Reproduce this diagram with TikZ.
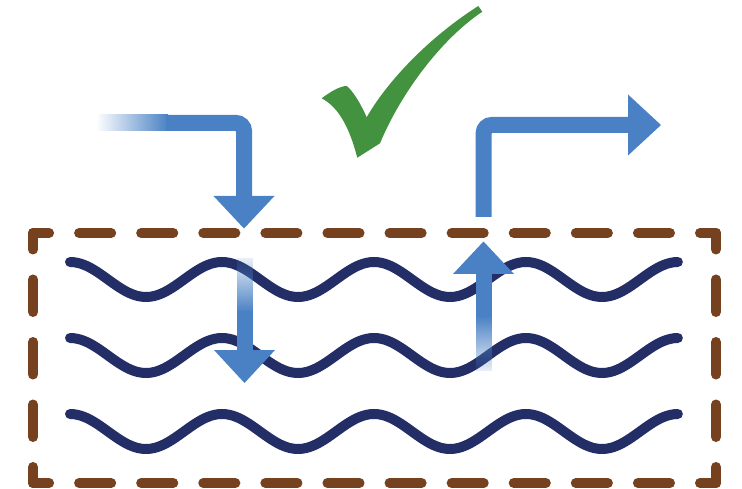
\documentclass[tikz,border=0pt]{standalone}
\usetikzlibrary{fadings}
\definecolor{arrowblue}{RGB}{74,129,196}
\definecolor{wavenavy}{RGB}{35,45,102}
\definecolor{boxbrown}{RGB}{117,65,31}
\definecolor{checkgreen}{RGB}{67,146,63}
\tikzfading[name=fadefromtop, top color=transparent!88, bottom color=transparent!0]
\tikzfading[name=fadefrombottom, top color=transparent!0, bottom color=transparent!88]
\tikzset{
  boxside/.style={draw=boxbrown, line width=10pt, line cap=round},
  wave/.style={draw=wavenavy, line width=10pt, line cap=round},
  shaft/.style={draw=arrowblue, line width=16pt, rounded corners=8pt},
  head/.style={fill=arrowblue},
}
\begin{document}
\begin{tikzpicture}[x=1pt,y=-1pt]
\useasboundingbox (0,0) rectangle (742,489);
\fill[white] (0,0) rectangle (742,489);
% dashed box
\coordinate (tl) at (33,233);
\coordinate (tr) at (716,233);
\coordinate (bl) at (33,483);
\coordinate (br) at (716,483);
\draw[boxside, dash pattern=on 32.09pt off 30pt, dash phase=16pt] (tl) -- (tr);
\draw[boxside, dash pattern=on 32.09pt off 30pt, dash phase=16pt] (bl) -- (br);
\draw[boxside, dash pattern=on 32.5pt off 30pt, dash phase=16pt] (tl) -- (bl);
\draw[boxside, dash pattern=on 32.5pt off 30pt, dash phase=16pt] (tr) -- (br);
% waves
\foreach \yc in {279.5,355.5,431.5}{
  \draw[wave] plot[variable=\t, domain=0:4, samples=181, smooth] ({70+\t*152},{\yc-17.5*cos(\t*360)});
}
% top-left bent arrow (in)
\shade[left color=white, right color=arrowblue] (96,115) rectangle (168,131);
\draw[shaft] (166,123) -- (244,123) -- (244,197);
\fill[head] (213.5,196) -- (274.5,196) -- (244,228.5) -- cycle;
% inner down arrow
\fill[arrowblue, path fading=fadefromtop] (236.5,258) rectangle (252.5,312);
\fill[arrowblue] (236.5,311) rectangle (252.5,351);
\fill[head] (214,350) -- (275,350) -- (244.5,383) -- cycle;
% inner up arrow
\fill[arrowblue, path fading=fadefrombottom] (475.5,316) rectangle (491.5,371);
\fill[arrowblue] (475.5,273) rectangle (491.5,317);
\fill[head] (453,274) -- (514,274) -- (483.5,241.5) -- cycle;
% top-right bent arrow (out)
\draw[shaft] (483.7,217) -- (483.7,125) -- (629,125);
\fill[head] (628,94.5) -- (628,155.5) -- (661,125) -- cycle;
% check mark
\fill[checkgreen] (321.7,98.3) .. controls (330,92) and (340,86) .. (346.7,86)
  .. controls (352,90) and (360,102) .. (366.7,117.3)
  .. controls (385,85) and (425,40) .. (478.3,6)
  -- (482.3,11.7)
  .. controls (440,40) and (400,95) .. (380,143.3)
  -- (357.3,157.7)
  .. controls (350,130) and (340,108) .. (321.7,98.3) -- cycle;
\end{tikzpicture}
\end{document}
